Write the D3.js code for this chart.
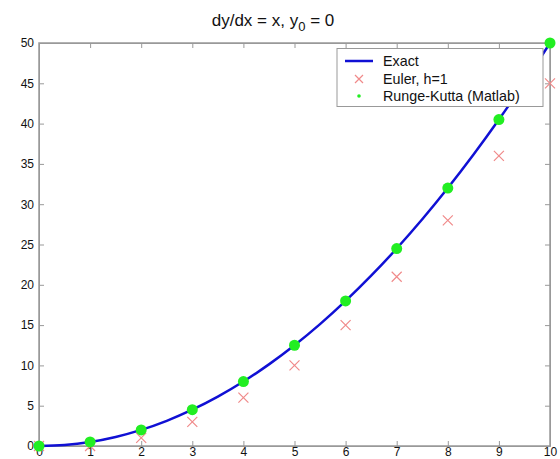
<!DOCTYPE html>
<html><head><meta charset="utf-8">
<script src="https://cdn.jsdelivr.net/npm/d3@7"></script>
<style>body{margin:0;background:#fff}svg{display:block;font-family:Arial,"Liberation Sans",sans-serif}</style>
</head><body><svg id="c" width="560" height="459"></svg>
<script>
const xTicks = [0,1,2,3,4,5,6,7,8,9,10];
const yTicks = [0,5,10,15,20,25,30,35,40,45,50];
const exactX = [0,0.5,1,1.5,2,2.5,3,3.5,4,4.5,5,5.5,6,6.5,7,7.5,8,8.5,9,9.5,10];
const exactY = [0,0.125,0.5,1.125,2,3.125,4.5,6.125,8,10.125,12.5,15.125,18,21.125,24.5,28.125,32,36.125,40.5,45.125,50];
const stepX = [0,1,2,3,4,5,6,7,8,9,10];
const eulerY = [0,0,1,3,6,10,15,21,28,36,45];
const rkY = [0,0.5,2,4.5,8,12.5,18,24.5,32,40.5,50];
const legendLabels = ["Exact","Euler, h=1","Runge-Kutta (Matlab)"];

const svg = d3.select("#c");
const L=39,R=550,T=43,B=446;
const x = d3.scaleLinear().domain([0,10]).range([L,R]);
const y = d3.scaleLinear().domain([0,50]).range([B,T]);
const axCol="#999";
const blue="#1010d4", red="#f08a8a", green="#22ee22";

const g = svg.append("g");
const xa = g.append("g").attr("transform",`translate(0,${B})`)
  .call(d3.axisBottom(x).tickValues(xTicks).tickSizeInner(-5).tickSizeOuter(0).tickPadding(3));
const ya = g.append("g").attr("transform",`translate(${L},0)`)
  .call(d3.axisLeft(y).tickValues(yTicks).tickSizeInner(-5).tickSizeOuter(0).tickPadding(5));
const xt = g.append("g").attr("transform",`translate(0,${T})`)
  .call(d3.axisTop(x).tickValues(xTicks).tickSizeInner(-5).tickSizeOuter(0).tickFormat(""));
const yr = g.append("g").attr("transform",`translate(${R},0)`)
  .call(d3.axisRight(y).tickValues(yTicks).tickSizeInner(-5).tickSizeOuter(0).tickFormat(""));
[xa,ya,xt,yr].forEach(a=>{
  a.selectAll("path,line").attr("stroke",axCol).attr("stroke-width",1);
  a.selectAll("text").attr("fill","#111").style("font-size","12px").style("font-family","Arial, 'Liberation Sans', sans-serif");
});
xa.selectAll("text").attr("dy","0.6em");
g.append("rect").attr("x",L).attr("y",T).attr("width",R-L).attr("height",B-T)
  .attr("fill","none").attr("stroke",axCol).attr("stroke-width",1.5);

// title
const title = svg.append("text").attr("x",273).attr("y",26).attr("text-anchor","middle")
  .style("font-size","17px").attr("fill","#111");
title.append("tspan").text("dy/dx = x, y");
title.append("tspan").attr("dy",5).style("font-size","13px").text("0");
title.append("tspan").attr("dy",-5).text(" = 0");

// exact curve
const line = d3.line().x(d=>x(d[0])).y(d=>y(d[1])).curve(d3.curveCatmullRom);
svg.append("path").datum(exactX.map((v,i)=>[v,exactY[i]]))
  .attr("d",line).attr("fill","none").attr("stroke",blue).attr("stroke-width",2.5);

// euler crosses
const cs=5;
svg.append("g").selectAll("path").data(stepX.map((v,i)=>[v,eulerY[i]])).join("path")
  .attr("d",d=>{const cx=x(d[0]),cy=y(d[1]);return `M${cx-cs},${cy-cs}L${cx+cs},${cy+cs}M${cx-cs},${cy+cs}L${cx+cs},${cy-cs}`;})
  .attr("stroke",red).attr("stroke-width",1.2).attr("fill","none");

// RK dots
svg.append("g").selectAll("circle").data(stepX.map((v,i)=>[v,rkY[i]])).join("circle")
  .attr("cx",d=>x(d[0])).attr("cy",d=>y(d[1])).attr("r",5.5).attr("fill",green);

// legend
const lg = svg.append("g");
lg.append("rect").attr("x",337).attr("y",48.5).attr("width",206).attr("height",58)
  .attr("fill","#fff").attr("stroke",axCol).attr("stroke-width",1);
const ly=[61,79,96];
lg.append("line").attr("x1",345).attr("x2",373).attr("y1",ly[0]).attr("y2",ly[0]).attr("stroke",blue).attr("stroke-width",2.5);
lg.append("path").attr("d",`M${359-4},${ly[1]-4}L${359+4},${ly[1]+4}M${359-4},${ly[1]+4}L${359+4},${ly[1]-4}`)
  .attr("stroke",red).attr("stroke-width",1.2);
lg.append("circle").attr("cx",359).attr("cy",ly[2]).attr("r",1.8).attr("fill",green);
legendLabels.forEach((t,i)=>{
  lg.append("text").attr("x",383).attr("y",ly[i]+5).text(t).style("font-size","14.3px").attr("fill","#111");
});
</script></body></html>
